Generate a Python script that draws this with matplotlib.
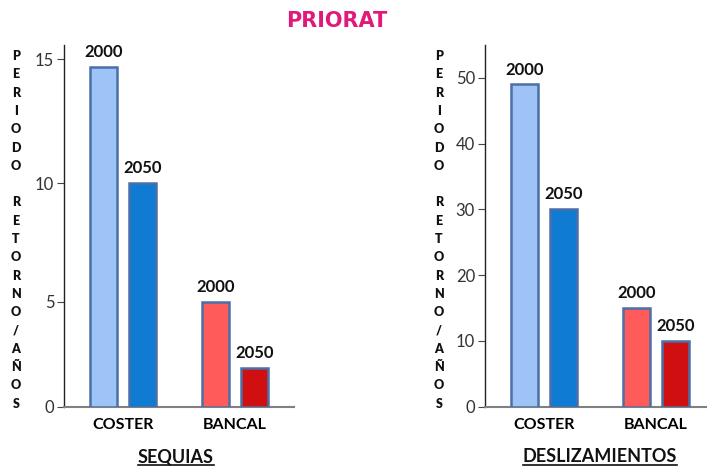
import matplotlib.pyplot as plt
import numpy as np

# datos
categorias = ["COSTER", "BANCAL"]
anios = ["2000", "2050"]
sequias_2000 = [14.7, 5]
sequias_2050 = [10, 2]
desliz_2000 = [49, 15]
desliz_2050 = [30, 10]
titulo = "PRIORAT"
subtitulos = ["SEQUIAS", "DESLIZAMIENTOS"]
ylabel_txt = "PERIODO RETORNO/AÑOS"

colores = [["#9DC3F7", "#107BD2"], ["#FF5B5B", "#D01010"]]
borde = "#4B6FA8"

plt.rcParams['font.family'] = ['Lato', 'DejaVu Sans']

fig = plt.figure(figsize=(7.07, 4.67), dpi=100)
W, H = 707, 467

def panel(left_px, right_px, ymax, ticks, v2000, v2050, p=1.0):
    ax = fig.add_axes([left_px / W, 1 - 406.7 / H, (right_px - left_px) / W, (406.7 - 45) / H])
    if p != 1.0:
        # el eje original no es del todo lineal
        ax.set_yscale('function', functions=(lambda v: np.sign(v) * np.abs(v) ** p,
                                             lambda v: np.sign(v) * np.abs(v) ** (1 / p)))
    x = np.arange(len(categorias))
    off, w = 0.174, 0.24
    for i in range(len(categorias)):
        for j, vals in enumerate([v2000, v2050]):
            xx = x[i] + (off if j else -off)
            ax.bar(xx, vals[i], width=w, color=colores[i][j], edgecolor=borde, linewidth=1.8, zorder=3)
            ax.annotate(anios[j], (xx, vals[i]), xytext=(0, 5), textcoords='offset points',
                        ha='center', va='bottom', fontsize=12, fontweight='bold', color='#111111')
    ax.set_ylim(0, ymax)
    ax.set_xlim(-0.527, -0.527 + (right_px - left_px) / 112)
    ax.set_yticks(ticks)
    ax.set_yticklabels([str(t) for t in ticks])
    ax.set_xticks(x)
    ax.set_xticklabels(categorias, fontsize=11.5, fontweight='bold')
    ax.tick_params(axis='x', length=0, pad=8)
    ax.tick_params(axis='y', length=5, width=0.8, color='#444444', labelsize=12, labelcolor='#333333', pad=2)
    ax.minorticks_off()
    for s in ['top', 'right']:
        ax.spines[s].set_visible(False)
    ax.spines['left'].set_color('#222222')
    ax.spines['left'].set_linewidth(1)
    ax.spines['bottom'].set_color('#808080')
    ax.spines['bottom'].set_linewidth(1.5)
    return ax

ax1 = panel(64, 294, 15.56, [0, 5, 10, 15], sequias_2000, sequias_2050, p=1.09)
ax2 = panel(484.7, 707, 55, [0, 10, 20, 30, 40, 50], desliz_2000, desliz_2050)

# etiqueta vertical letra por letra
letras = list(ylabel_txt)
for xpx in [16, 439]:
    for k, c in enumerate(letras):
        if c == " ":
            continue
        fig.text(xpx / W, 1 - (56 + k * 18.3) / H, c, ha='center', va='center',
                 fontsize=9, fontweight='heavy', color='#111111')

fig.text(337 / W, 1 - 21 / H, titulo, ha='center', va='center', fontsize=15,
         fontweight='bold', color='#E0197B', family='DejaVu Sans')

subs = []
for xpx, s in zip([176, 600], subtitulos):
    subs.append(fig.text(xpx / W, 1 - 457 / H, s, ha='center', va='center',
                         fontsize=13, fontweight='bold', color='#111111'))

fig.canvas.draw()
for t in subs:
    bb = t.get_window_extent()
    y = (bb.y0 + 0.5) / H
    fig.add_artist(plt.Line2D([bb.x0 / W, bb.x1 / W], [y, y], color='#111111', linewidth=1.2))

fig.savefig("out.png", dpi=100)
